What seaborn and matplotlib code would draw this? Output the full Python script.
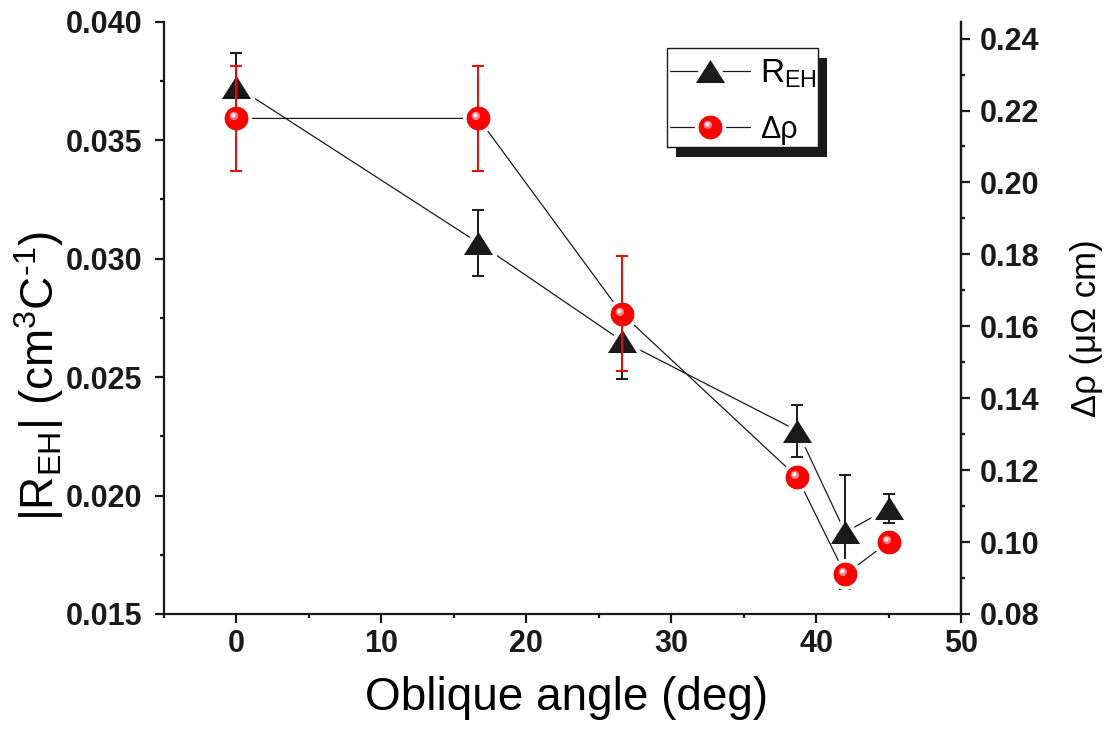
import matplotlib
matplotlib.use("Agg")
import matplotlib.pyplot as plt
import pandas as pd
import seaborn as sns
from matplotlib.legend_handler import HandlerTuple
from matplotlib.markers import MarkerStyle
from matplotlib.patches import Rectangle
from matplotlib.path import Path
from matplotlib.ticker import MultipleLocator
from matplotlib.transforms import ScaledTranslation

# values
angle = [0.0, 16.7, 26.6, 38.7, 42.0, 45.0]
r_eh = [0.03726, 0.03066, 0.02653, 0.02274, 0.01845, 0.01946]
r_eh_err = [0.0014, 0.0014, 0.0016, 0.0011, 0.0024, 0.0006]
d_rho = [0.2178, 0.2178, 0.1635, 0.1180, 0.0910, 0.1000]
d_rho_err = [0.0145, 0.0145, 0.0160, 0.0, 0.0, 0.0]

x_label = "Oblique angle (deg)"
left_label = r"|R$_{\mathregular{EH}}$| (cm$^{\mathregular{3}}$C$^{\text{-1}}$)"
right_label = "\u0394\u03c1 (\u03bc\u03a9 cm)"
legend_labels = [r"R$_{\mathregular{EH}}$", "\u0394\u03c1"]


def main():
	sns.set_theme(style="ticks")
	plt.rcParams['font.family'] = ['Liberation Sans', 'DejaVu Sans']
	plt.rcParams['mathtext.fontset'] = 'custom'
	plt.rcParams['mathtext.rm'] = 'Liberation Sans'
	plt.rcParams['mathtext.it'] = 'Liberation Sans:italic'
	plt.rcParams['mathtext.bf'] = 'Liberation Sans:bold'
	for key in ('text.color', 'axes.labelcolor', 'xtick.color', 'ytick.color', 'axes.edgecolor'):
		plt.rcParams[key] = 'black'

	df = pd.DataFrame({"angle": angle, "reh": r_eh, "reh_err": r_eh_err,
					   "drho": d_rho, "drho_err": d_rho_err})

	fig = plt.figure(figsize=(11.09, 7.40), dpi=100)
	ax = fig.add_axes([0.1479, 0.1703, 0.7187, 0.8004])
	ax2 = ax.twinx()

	tri = MarkerStyle(Path([(-1, -0.79), (1, -0.79), (0, 0.79), (-1, -0.79)], closed=True), joinstyle='round')
	circ = MarkerStyle('o', joinstyle='round')
	glow = MarkerStyle(Path.circle(center=(-2.6, 2.6), radius=4.2))
	shine = MarkerStyle(Path.circle(center=(-3.2, 3.2), radius=2.2))

	# R_EH on the left axis
	sns.lineplot(data=df, x="angle", y="reh", ax=ax, sort=False, color='k', lw=0.9, zorder=2)
	h_halo1, = ax.plot(angle, r_eh, ls='none', marker=tri, ms=21, mfc='white', mec='white', mew=6, zorder=2.1)
	ax.errorbar(angle, r_eh, yerr=r_eh_err, fmt='none', ecolor='k', elinewidth=1.4, capsize=4, capthick=1.4, zorder=2.2)
	h_mark1, = ax.plot(angle, r_eh, ls='none', marker=tri, ms=21, mfc='k', mec='k', mew=0, zorder=2.3)

	# delta rho on the right axis
	sns.lineplot(data=df, x="angle", y="drho", ax=ax2, sort=False, color='k', lw=0.9, zorder=2)
	h_halo2, = ax2.plot(angle, d_rho, ls='none', marker=circ, ms=16.5, mfc='white', mec='white', mew=6, zorder=2.1)
	ax2.errorbar(angle, d_rho, yerr=d_rho_err, fmt='none', ecolor='red', elinewidth=1.4, capsize=4, capthick=1.4, zorder=2.2)
	h_mark2, = ax2.plot(angle, d_rho, ls='none', marker=circ, ms=16.5, mfc='#ff0000', mec='#e00000', mew=0.6, zorder=2.3)
	h_glow2, = ax2.plot(angle, d_rho, ls='none', marker=glow, ms=9.8, mfc='#ff7a7a', mec='none', zorder=2.4)
	h_shine2, = ax2.plot(angle, d_rho, ls='none', marker=shine, ms=7.8, mfc='#fff0f0', mec='none', zorder=2.5)

	line1 = ax.get_lines()[0]
	line2 = ax2.get_lines()[0]

	ax.set_xlim(-5, 50)
	ax.set_ylim(0.015, 0.040)
	ax2.set_ylim(0.08, 0.2447)

	ax.xaxis.set_major_locator(MultipleLocator(10))
	ax.xaxis.set_minor_locator(MultipleLocator(5))
	ax.yaxis.set_major_locator(MultipleLocator(0.005))
	ax.yaxis.set_minor_locator(MultipleLocator(0.0025))
	ax2.yaxis.set_major_locator(MultipleLocator(0.02))
	ax2.yaxis.set_minor_locator(MultipleLocator(0.01))
	ax.yaxis.set_major_formatter(plt.FormatStrFormatter('%.3f'))
	ax2.yaxis.set_major_formatter(plt.FormatStrFormatter('%.2f'))

	for a in (ax, ax2):
		a.spines['top'].set_visible(False)
		for s in a.spines.values():
			s.set_linewidth(1.6)
			s.set_color('k')
		a.tick_params(which='major', direction='out', length=6.5, width=1.6, color='k',
					  labelsize=22, labelcolor='k')
		a.tick_params(which='minor', direction='out', length=3.2, width=1.6, color='k')
		for lab in a.get_xticklabels() + a.get_yticklabels():
			lab.set_fontweight('bold')
	ax.tick_params(axis='y', which='major', pad=9)
	ax.tick_params(axis='x', which='major', pad=4)
	ax2.tick_params(axis='y', which='major', pad=7)
	ax2.spines['left'].set_visible(False)
	ax2.spines['bottom'].set_visible(False)

	ax.set_xlabel(x_label, fontsize=33)
	ax.set_ylabel(left_label, fontsize=33)
	ax2.set_ylabel(right_label, fontsize=25)
	ax.xaxis.label.set_va('center')
	ax.yaxis.label.set_va('center')
	ax2.yaxis.label.set_va('center')
	ax.xaxis.set_label_coords(0.505, -0.142)
	ax.yaxis.set_label_coords(-0.157, 0.402)
	ax2.yaxis.set_label_coords(1.157, 0.483)

	leg = ax2.legend(handles=[(line1, h_halo1, h_mark1), (line2, h_halo2, h_mark2, h_glow2, h_shine2)],
					 labels=legend_labels, handler_map={tuple: HandlerTuple(ndivide=1)},
					 loc='upper left', bbox_to_anchor=(667 / 1109, 1 - 54 / 740),
					 bbox_transform=fig.transFigure, borderaxespad=0, fontsize=24,
					 handlelength=2.4, handletextpad=0.3, labelspacing=0.76, borderpad=0.1,
					 frameon=False)
	leg.set_zorder(10)
	leg.get_texts()[1].set_fontsize(22)

	# legend frame with a solid drop shadow, Origin style
	box = (667 / 1109, 1 - 147 / 740)
	box_w, box_h = 151 / 1109, 99 / 740
	shift = ScaledTranslation(9 / 100, -10 / 100, fig.dpi_scale_trans)
	ax2.add_artist(Rectangle(box, box_w, box_h, transform=fig.transFigure + shift,
							 facecolor='k', edgecolor='none', zorder=9))
	ax2.add_artist(Rectangle(box, box_w, box_h, transform=fig.transFigure,
							 facecolor='white', edgecolor='k', lw=1.0, zorder=9.5))

	fig.savefig("out.png", dpi=100)


if __name__ == "__main__":
	main()
